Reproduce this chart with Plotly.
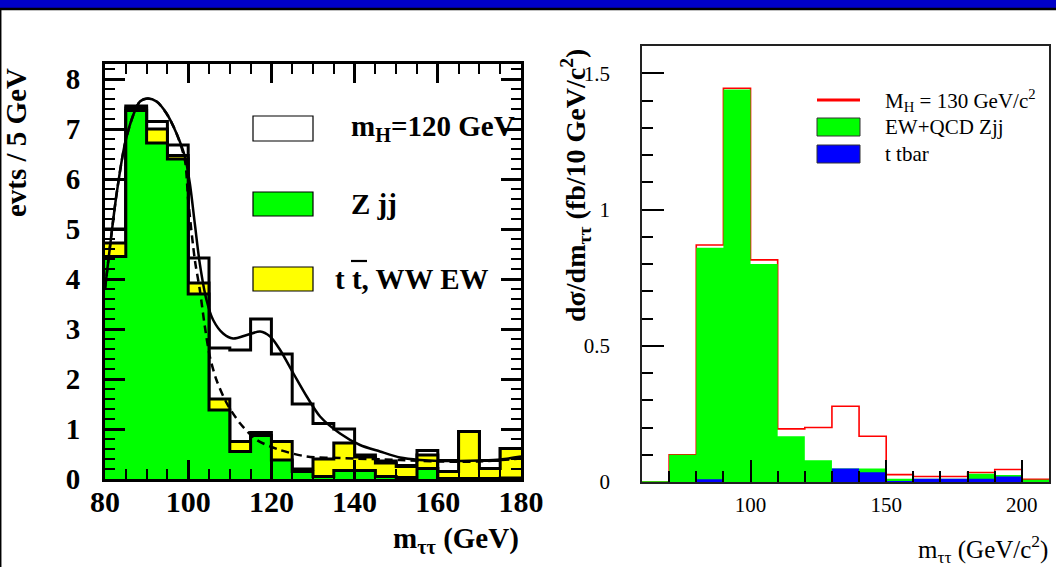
import plotly.graph_objects as go

# ---------------- data ----------------
# Left panel: events / 5 GeV, stacked histograms (cumulative tops)
left_bin_edges = [80, 85, 90, 95, 100, 105, 110, 115, 120, 125, 130,
                  135, 140, 145, 150, 155, 160, 165, 170, 175, 180]
higgs_plus_bkg = [5.0, 7.46, 7.15, 6.68, 4.42, 2.62, 2.58, 3.2, 2.5, 1.5,
                  1.11, 1.0, 0.48, 0.36, 0.27, 0.57, 0.37, 0.95, 0.37, 0.61]
zjj_plus_tt_ww = [4.72, 7.42, 7.0, 6.47, 3.92, 1.6, 0.75, 0.93, 0.75, 0.2,
                  0.4, 0.72, 0.44, 0.32, 0.25, 0.48, 0.15, 0.95, 0.21, 0.61]
zjj_only = [4.45, 7.37, 6.72, 6.4, 3.7, 1.38, 0.55, 0.87, 0.38, 0.15,
            0.05, 0.17, 0.17, 0.05, 0.03, 0.21, 0.01, 0.01, 0.01, 0.02]

# smooth fit curves
fit_sb_x = [80, 81.2, 82.8, 84.8, 86.8, 88.4, 90.3, 92.4, 94.8, 97.2, 99.2,
            100.4, 101.6, 102.8, 104.4, 106.0, 108.4, 110.8, 114.1, 117.3,
            119.7, 122.1, 125.3, 128.5, 131.7, 136.5, 141.3, 146.1, 150.9,
            155.7, 160.5, 165.4, 170.1, 175, 180]
fit_sb_y = [3.8, 4.65, 5.71, 6.71, 7.28, 7.55, 7.61, 7.55, 7.31, 6.91, 6.45,
            5.91, 5.1, 4.3, 3.58, 3.18, 2.91, 2.81, 2.88, 2.95,
            2.85, 2.58, 2.11, 1.65, 1.25, 0.91, 0.68, 0.55, 0.43,
            0.38, 0.36, 0.36, 0.37, 0.39, 0.45]
fit_b_x = [80, 81.2, 82.8, 84.8, 86.8, 88.4, 90.3, 92.4, 94.8, 97.2, 99.2,
           100.0, 101.6, 102.8, 104.0, 105.2, 106.8, 109.3, 112.5, 116.5,
           122.1, 128.5, 136.5, 150.9, 160.5, 170, 180]
fit_b_y = [3.8, 4.65, 5.71, 6.71, 7.28, 7.55, 7.61, 7.55, 7.31, 6.91, 6.38,
           5.58, 4.38, 3.78, 3.05, 2.45, 1.98, 1.51, 1.11, 0.78,
           0.58, 0.45, 0.42, 0.38, 0.35, 0.35, 0.41]

left_xticks = [80, 100, 120, 140, 160, 180]
left_yticks = [0, 1, 2, 3, 4, 5, 6, 7, 8]

# Right panel: d sigma / d m (fb / 10 GeV/c^2)
right_bin_edges = [60, 70, 80, 90, 100, 110, 120, 130, 140, 150, 160,
                   170, 180, 190, 200, 210]
total_mh130 = [0.0, 0.10, 0.87, 1.445, 0.815, 0.195, 0.20, 0.278, 0.168,
               0.027, 0.02, 0.02, 0.035, 0.046, 0.01]
ew_qcd_zjj = [0.003, 0.10, 0.86, 1.44, 0.80, 0.168, 0.08, 0.05, 0.05,
              0.012, 0.012, 0.012, 0.03, 0.026, 0.008]
ttbar = [0.0, 0.0, 0.01, 0.0, 0.0, 0.0, 0.0, 0.05, 0.036, 0.004, 0.012,
         0.012, 0.012, 0.02, 0.0]

# ---------------- helpers ----------------
W, H = 1056, 567
SERIF = "Liberation Serif, Times New Roman, serif"


def px(x):
    return x / W


def py(y):
    return 1 - y / H


def step_y(vals):
    return list(vals) + [vals[-1]]


fig = go.Figure()

# ---------------- left panel ----------------
for vals, col in [(higgs_plus_bkg, "white"), (zjj_plus_tt_ww, "#ffff00"),
                  (zjj_only, "#00ff00")]:
    fig.add_trace(go.Scatter(
        x=left_bin_edges, y=step_y(vals), mode="lines",
        line=dict(shape="hv", color="black", width=3),
        fill="tozeroy", fillcolor=col, xaxis="x", yaxis="y",
        hoverinfo="skip"))

fig.add_trace(go.Scatter(
    x=fit_b_x, y=fit_b_y, mode="lines",
    line=dict(shape="spline", smoothing=0.8, color="black", width=2.5,
              dash="8px,5px"),
    xaxis="x", yaxis="y", hoverinfo="skip"))
fig.add_trace(go.Scatter(
    x=fit_sb_x, y=fit_sb_y, mode="lines",
    line=dict(shape="spline", smoothing=0.8, color="black", width=2.5),
    xaxis="x", yaxis="y", hoverinfo="skip"))

# ---------------- right panel ----------------
fig.add_trace(go.Scatter(
    x=right_bin_edges, y=step_y(total_mh130), mode="lines",
    line=dict(shape="hv", color="#ff0000", width=1.6),
    xaxis="x2", yaxis="y2", hoverinfo="skip"))
fig.add_trace(go.Scatter(
    x=right_bin_edges, y=step_y(ew_qcd_zjj), mode="lines",
    line=dict(shape="hv", color="#00ff00", width=0),
    fill="tozeroy", fillcolor="#00ff00",
    xaxis="x2", yaxis="y2", hoverinfo="skip"))
fig.add_trace(go.Scatter(
    x=right_bin_edges, y=step_y(ttbar), mode="lines",
    line=dict(shape="hv", color="#0000ff", width=0),
    fill="tozeroy", fillcolor="#0000ff",
    xaxis="x2", yaxis="y2", hoverinfo="skip"))


def bold_tick(s):
    return dict(family=SERIF, size=s, color="black", weight="bold")


fig.update_layout(
    width=W, height=H, margin=dict(l=0, r=0, t=0, b=0, pad=0),
    autosize=False,
    paper_bgcolor="white", plot_bgcolor="white", showlegend=False,
    xaxis=dict(
        domain=[px(105), px(521)], range=[80, 180], anchor="y",
        automargin=False,
        tickmode="array", tickvals=left_xticks,
        ticks="inside", ticklen=19, tickwidth=2.5, tickcolor="black",
        minor=dict(dtick=5, tick0=80, ticks="inside", ticklen=10,
                   tickwidth=2, tickcolor="black"),
        showline=True, linewidth=3, linecolor="black", mirror="ticks",
        showgrid=False, zeroline=False, tickfont=bold_tick(30),
        ticklabelstandoff=-6),
    yaxis=dict(
        domain=[py(479), py(64)], range=[0, 8.3], anchor="x",
        automargin=False,
        tickmode="array", tickvals=left_yticks,
        ticks="inside", ticklen=20, tickwidth=2.5, tickcolor="black",
        minor=dict(dtick=0.2, tick0=0, ticks="inside", ticklen=10,
                   tickwidth=2, tickcolor="black"),
        showline=True, linewidth=3, linecolor="black", mirror="ticks",
        showgrid=False, zeroline=False, tickfont=bold_tick(29),
        ticklabelstandoff=16),
    xaxis2=dict(
        domain=[px(642), px(1049)], range=[60, 210], anchor="y2",
        automargin=False,
        tick0=0, dtick=50,
        ticks="inside", ticklen=22, tickwidth=1.8, tickcolor="black",
        minor=dict(dtick=10, tick0=0, ticks="inside", ticklen=11,
                   tickwidth=1.8, tickcolor="black"),
        showline=True, linewidth=1.6, linecolor="#222222", mirror=True,
        showgrid=False, zeroline=False,
        tickfont=dict(family=SERIF, size=21, color="black"),
        ticklabelstandoff=3),
    yaxis2=dict(
        domain=[py(482), py(46)], range=[0, 1.6], anchor="x2",
        automargin=False,
        tick0=0, dtick=0.5,
        ticks="inside", ticklen=22, tickwidth=1.8, tickcolor="black",
        minor=dict(dtick=0.1, tick0=0, ticks="inside", ticklen=11,
                   tickwidth=1.8, tickcolor="black"),
        showline=True, linewidth=1.6, linecolor="#222222", mirror=True,
        showgrid=False, zeroline=False,
        tickfont=dict(family=SERIF, size=21, color="black"),
        ticklabelstandoff=26),
)

shapes = [
    # slide header band and frame
    dict(type="rect", xref="paper", yref="paper", x0=0, x1=1, y0=py(8), y1=1,
         fillcolor="#0000c8", line=dict(width=0), layer="above"),
    dict(type="line", xref="paper", yref="paper", x0=0, x1=1, y0=py(9), y1=py(9),
         line=dict(color="black", width=2.5)),
    dict(type="line", xref="paper", yref="paper", x0=px(0.7), x1=px(0.7),
         y0=py(9), y1=0, line=dict(color="black", width=1.5)),
    # left legend boxes
    dict(type="rect", xref="paper", yref="paper", x0=px(253), x1=px(313),
         y0=py(141), y1=py(116), fillcolor="white",
         line=dict(color="black", width=1.2)),
    dict(type="rect", xref="paper", yref="paper", x0=px(253), x1=px(313),
         y0=py(216), y1=py(192), fillcolor="#00ff00",
         line=dict(color="black", width=1.2)),
    dict(type="rect", xref="paper", yref="paper", x0=px(253), x1=px(313),
         y0=py(291), y1=py(267), fillcolor="#ffff00",
         line=dict(color="black", width=1.2)),
    # overline on the anti-top
    dict(type="line", xref="paper", yref="paper", x0=px(351), x1=px(367),
         y0=py(261), y1=py(261), line=dict(color="black", width=2.2)),
    # right legend
    dict(type="line", xref="paper", yref="paper", x0=px(817), x1=px(860),
         y0=py(100), y1=py(100), line=dict(color="#ff0000", width=3)),
    dict(type="rect", xref="paper", yref="paper", x0=px(817), x1=px(860),
         y0=py(136), y1=py(118), fillcolor="#00ff00",
         line=dict(color="#333333", width=1)),
    dict(type="rect", xref="paper", yref="paper", x0=px(817), x1=px(860),
         y0=py(163), y1=py(145), fillcolor="#0000ff",
         line=dict(color="#333333", width=1)),
]
fig.update_layout(shapes=shapes)

ann = []


def add_text(text, x, y, size, bold=False, xanchor="left", angle=0,
             yanchor="middle"):
    ann.append(dict(text=text, x=px(x), y=py(y), xref="paper", yref="paper",
                    showarrow=False, xanchor=xanchor, yanchor=yanchor,
                    textangle=angle,
                    font=dict(family=SERIF, size=size, color="black",
                              weight="bold" if bold else "normal")))


# left panel titles and legend
add_text("evts / 5 GeV", 16, 143, 29, bold=True, xanchor="center", angle=-90)
add_text("m<sub>ττ</sub> (GeV)", 521, 540, 29, bold=True, xanchor="right")
add_text("m<sub>H</sub>=120 GeV", 349, 128, 29, bold=True)
add_text("Z jj", 349, 204, 29, bold=True)
add_text("t t, WW EW", 333, 279, 29, bold=True)

# right panel titles and legend
add_text("dσ/dm<sub>ττ</sub> (fb/10 GeV/c<sup>2</sup>)", 575, 186, 28,
         bold=True, xanchor="center", angle=-90)
add_text("m<sub>ττ</sub> (GeV/c<sup>2</sup>)", 1050, 549, 25, xanchor="right")
add_text("M<sub>H</sub> = 130 GeV/c<sup>2</sup>", 883, 100, 21)
add_text("EW+QCD Zjj", 883, 127, 21)
add_text("t tbar", 883, 154, 21)

fig.update_layout(annotations=ann)

fig.write_html("out.html")
